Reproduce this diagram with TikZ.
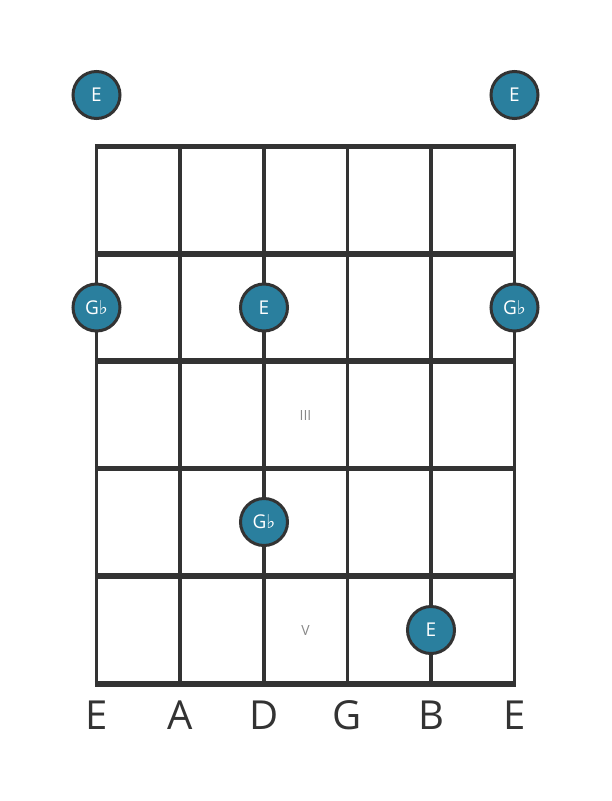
\documentclass[tikz,border=0pt]{standalone}
\usepackage{fontspec}
\setmainfont{Open Sans}
\newfontfamily\flatfont{DejaVu Sans}
\definecolor{ink}{HTML}{333333}
\definecolor{dotblue}{HTML}{2A7F9E}
\definecolor{numgray}{HTML}{888888}
\newcommand{\flatsign}{{\flatfont\fontsize{19}{19}\selectfont ♭}}
\tikzset{
  note/.style={circle, draw=ink, line width=3pt, fill=dotblue, minimum size=47pt,
    inner sep=0pt, text=white, font=\fontsize{19}{19}\selectfont},
  fretnum/.style={text=numgray, font=\fontsize{14}{14}\selectfont},
  stringname/.style={text=ink, font=\fontsize{40}{40}\selectfont}
}
\begin{document}
\begin{tikzpicture}[x=1pt,y=-1pt]
\useasboundingbox[fill=white] (0,0) rectangle (611,801);

% strings
\foreach \i/\x in {1/96.5,2/180,3/264,4/347.5,5/431,6/514.5}{
  \coordinate (s\i top) at (\x,146.5);
  \coordinate (s\i bot) at (\x,684);
  \draw[ink, line width=3.2pt] (s\i top) -- (s\i bot);
}
% frets
\foreach \j/\y in {0/146.5,1/254,2/361,3/468.5,4/576,5/684}{
  \draw[ink, line width=5.5pt] (94.9,\y) -- (516.1,\y);
}

\node[fretnum] (f3) at (305.5,415) {III};
\node[fretnum] (f5) at (305.5,630) {V};

\node[note] (n1) at (96.5,95) {E};
\node[note] (n2) at (514.5,95) {E};
\node[note] (n3) at (96.5,307.5) {G\flatsign};
\node[note] (n4) at (264,307.5) {E};
\node[note] (n5) at (514.5,307.5) {G\flatsign};
\node[note] (n6) at (264,522) {G\flatsign};
\node[note] (n7) at (431,630) {E};

\node[stringname] (l1) at (96.5,715) {E};
\node[stringname] (l2) at (180,715) {A};
\node[stringname] (l3) at (264,715) {D};
\node[stringname] (l4) at (347.5,715) {G};
\node[stringname] (l5) at (431,715) {B};
\node[stringname] (l6) at (514.5,715) {E};
\end{tikzpicture}
\end{document}
